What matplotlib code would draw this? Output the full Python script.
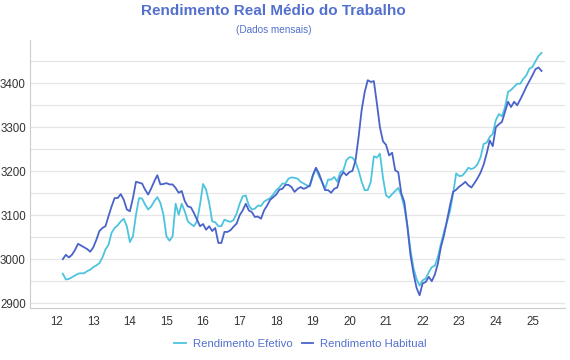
import matplotlib
matplotlib.use('agg')
import matplotlib.pyplot as plt
import numpy as np
import pandas as pd

# monthly data, Mar 2012 .. Apr 2025
efetivo = [2967, 2954, 2955, 2959, 2963, 2967, 2968, 2968, 2973, 2976,
           2982, 2986, 2991, 3004, 3022, 3033, 3060, 3071, 3077, 3086,
           3092, 3075, 3039, 3052, 3101, 3139, 3138, 3124, 3113, 3120,
           3132, 3141, 3128, 3101, 3052, 3042, 3052, 3126, 3101, 3126,
           3109, 3086, 3080, 3075, 3086, 3124, 3171, 3158, 3128, 3086,
           3084, 3075, 3075, 3090, 3087, 3085, 3089, 3104, 3126, 3143,
           3145, 3122, 3113, 3115, 3122, 3121, 3131, 3135, 3139, 3147,
           3157, 3163, 3172, 3172, 3183, 3186, 3185, 3183, 3176, 3172,
           3168, 3165, 3189, 3206, 3189, 3176, 3160, 3181, 3181, 3187,
           3176, 3198, 3202, 3225, 3232, 3231, 3221, 3202, 3176, 3157,
           3157, 3176, 3234, 3231, 3240, 3185, 3145, 3140, 3148, 3155,
           3162, 3145, 3118, 3075, 3022, 2980, 2955, 2940, 2952, 2956,
           2970, 2982, 2985, 3005, 3035, 3062, 3085, 3110, 3150, 3195,
           3189, 3190, 3198, 3208, 3205, 3208, 3216, 3232, 3262, 3265,
           3278, 3285, 3316, 3330, 3325, 3345, 3380, 3385, 3392, 3399,
           3399, 3410, 3418, 3433, 3437, 3450, 3462, 3469]

habitual = [3000, 3010, 3004, 3010, 3021, 3035, 3031, 3027, 3023, 3017,
            3027, 3044, 3064, 3071, 3075, 3098, 3120, 3139, 3139, 3148,
            3135, 3113, 3109, 3139, 3176, 3174, 3172, 3158, 3147, 3161,
            3177, 3191, 3170, 3171, 3173, 3170, 3170, 3162, 3151, 3155,
            3132, 3120, 3118, 3105, 3090, 3075, 3080, 3067, 3075, 3064,
            3071, 3037, 3037, 3062, 3062, 3066, 3074, 3081, 3100, 3111,
            3126, 3111, 3107, 3096, 3097, 3092, 3111, 3122, 3135, 3141,
            3147, 3158, 3160, 3169, 3169, 3164, 3153, 3160, 3164, 3160,
            3163, 3168, 3191, 3208, 3195, 3176, 3157, 3157, 3151, 3160,
            3163, 3187, 3198, 3191, 3198, 3201, 3225, 3278, 3339, 3380,
            3407, 3403, 3405, 3354, 3300, 3268, 3260, 3236, 3242, 3202,
            3198, 3150, 3130, 3075, 3010, 2968, 2935, 2918, 2945, 2948,
            2960, 2950, 2965, 2990, 3028, 3054, 3089, 3123, 3153, 3158,
            3165, 3170, 3176, 3168, 3163, 3173, 3184, 3197, 3215, 3240,
            3270, 3257, 3300, 3307, 3312, 3335, 3358, 3346, 3358, 3350,
            3363, 3377, 3392, 3405, 3418, 3432, 3436, 3428]

years = list(range(2012, 2026))
year_labels = [str(y)[2:] for y in years]

dates = pd.date_range('2012-03-01', periods=len(efetivo), freq='MS')
x = dates.year + (dates.month - 1) / 12

plt.rcParams['font.family'] = ['Liberation Sans', 'DejaVu Sans']

fig = plt.figure(figsize=(5.7, 3.6), dpi=100)
ax = fig.add_axes([0.0526, 0.1444, 0.9386, 0.744])

c_efe = '#4DC4DE'
c_hab = '#4A63C9'
ax.plot(x, efetivo, color=c_efe, lw=1.3, label='Rendimento Efetivo')
ax.plot(x, habitual, color=c_hab, lw=1.3, label='Rendimento Habitual')

ax.set_xlim(2011.27, 2025.89)
ax.set_ylim(2889, 3498)
ax.set_xticks(years)
ax.set_xticklabels(year_labels)
ax.set_yticks(np.arange(2900, 3401, 100))
ax.set_yticks(np.arange(2950, 3451, 100), minor=True)
ax.grid(True, which='both', axis='y', color='#e6e6e6', lw=0.9)
ax.set_axisbelow(True)
ax.tick_params(axis='both', which='both', length=0, labelsize=8.3, colors='#333333')
ax.tick_params(axis='x', pad=6)
ax.tick_params(axis='y', pad=3)

for s in ['top', 'right']:
    ax.spines[s].set_visible(False)
ax.spines['left'].set_color('#cccccc')
ax.spines['bottom'].set_color('#cccccc')

fig.text(0.48, 0.969, 'Rendimento Real Médio do Trabalho', ha='center', va='center',
         fontsize=11, fontweight='bold', color='#5470CF')
fig.text(0.48, 0.917, '(Dados mensais)', ha='center', va='center',
         fontsize=7.2, color='#5470CF')

leg = fig.legend(loc='center', bbox_to_anchor=(0.527, 0.044), ncol=2, frameon=False,
                 fontsize=8.2, handlelength=1.0, columnspacing=0.8, handletextpad=0.6)
for t in leg.get_texts():
    t.set_color('#5470CF')

plt.savefig('out.png', dpi=100)
